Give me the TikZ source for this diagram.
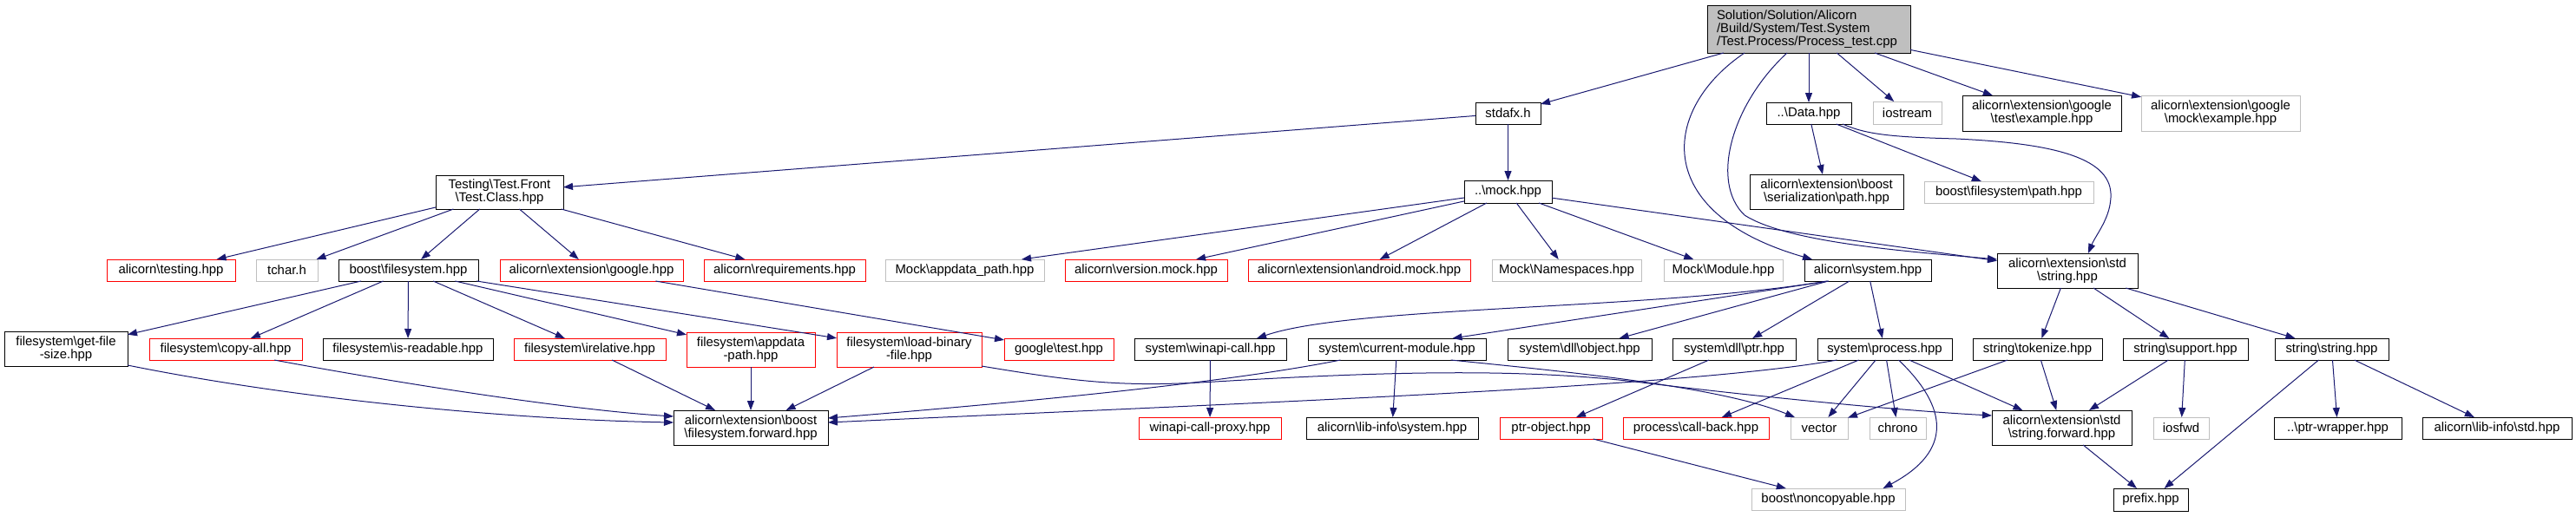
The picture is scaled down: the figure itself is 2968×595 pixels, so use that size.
\documentclass[tikz,border=0pt]{standalone}
\usepackage{fontspec}
\setmainfont{Liberation Sans}
\usetikzlibrary{arrows.meta}
\definecolor{edgec}{RGB}{25,25,112}
\definecolor{grayb}{RGB}{191,191,191}
\definecolor{redb}{RGB}{255,0,0}
\newcommand\bsl{\textbackslash}
\newcommand\nd[7]{\node[#6,minimum width=#4pt,minimum height=#5pt] (#1) at (#2,#3) {#7};}
\begin{document}
\begin{tikzpicture}[x=1pt,y=-1pt,font=\fontsize{14.9}{15.2}\selectfont,
  box/.style={draw=black,line width=1pt,inner sep=0pt,outer sep=0pt,align=center,fill=white},
  rbox/.style={box,draw=redb},
  gbox/.style={box,draw=grayb},
  conn/.style={draw=edgec,line width=1pt,-{Triangle[length=11pt,width=8pt]}}]
\useasboundingbox (0,0) rectangle (2968,595);
% root
\node[box,fill=grayb,text width=212pt,align=left,inner xsep=11pt,inner ysep=0pt,minimum height=55pt] (root) at (2084,33.5)
  {Solution/Solution/Alicorn\\/Build/System/Test.System\\/Test.Process/Process\_test.cpp};
% row 1
\nd{stdafx}{1737.5}{130.5}{75}{25}{box}{stdafx.h}
\nd{Data}{2084}{130.5}{98}{25}{box}{..\bsl Data.hpp}
\nd{iostream}{2197.5}{130}{79}{26}{gbox}{iostream}
\nd{testex}{2352.5}{130.5}{183}{41}{box}{alicorn\bsl extension\bsl google\\\bsl test\bsl example.hpp}
\nd{mockex}{2558.5}{130.5}{183}{41}{gbox}{alicorn\bsl extension\bsl google\\\bsl mock\bsl example.hpp}
% row 2
\nd{TestClass}{575.5}{221.5}{147}{39}{box}{Testing\bsl Test.Front\\\bsl Test.Class.hpp}
\nd{mock}{1737.5}{221}{101}{26}{box}{..\bsl mock.hpp}
\nd{serpath}{2104.5}{221}{177}{40}{box}{alicorn\bsl extension\bsl boost\\\bsl serialization\bsl path.hpp}
\nd{bfspath}{2314.5}{221.5}{195}{25}{gbox}{boost\bsl filesystem\bsl path.hpp}
% row 3
\nd{testing}{197}{311.5}{148}{25}{rbox}{alicorn\bsl testing.hpp}
\nd{tchar}{330.5}{311.5}{71}{25}{gbox}{tchar.h}
\nd{bfs}{470.5}{311.5}{161}{25}{box}{boost\bsl filesystem.hpp}
\nd{google}{681.5}{311.5}{211}{25}{rbox}{alicorn\bsl extension\bsl google.hpp}
\nd{requirements}{904}{311.5}{186}{25}{rbox}{alicorn\bsl requirements.hpp}
\nd{mockappdata}{1111.5}{311.5}{183}{25}{gbox}{Mock\bsl appdata\_path.hpp}
\nd{versionmock}{1320.5}{311.5}{187}{25}{rbox}{alicorn\bsl version.mock.hpp}
\nd{androidmock}{1566}{311.5}{256}{25}{rbox}{alicorn\bsl extension\bsl android.mock.hpp}
\nd{namespaces}{1805}{311.5}{172}{25}{gbox}{Mock\bsl Namespaces.hpp}
\nd{module}{1985.5}{311.5}{137}{25}{gbox}{Mock\bsl Module.hpp}
\nd{system}{2152}{311.5}{146}{25}{box}{alicorn\bsl system.hpp}
\nd{string}{2382}{312}{162}{40}{box}{alicorn\bsl extension\bsl std\\\bsl string.hpp}
% row 4
\nd{getfile}{76}{402}{142}{40}{box}{filesystem\bsl get-file\\-size.hpp}
\nd{copyall}{260}{402.5}{176}{25}{rbox}{filesystem\bsl copy-all.hpp}
\nd{isreadable}{470}{402.5}{196}{25}{box}{filesystem\bsl is-readable.hpp}
\nd{irelative}{679.5}{402.5}{175}{25}{rbox}{filesystem\bsl irelative.hpp}
\nd{appdatapath}{865}{403}{148}{40}{rbox}{filesystem\bsl appdata\\-path.hpp}
\nd{loadbinary}{1047.5}{403}{167}{40}{rbox}{filesystem\bsl load-binary\\-file.hpp}
\nd{googletest}{1220}{402.5}{126}{25}{rbox}{google\bsl test.hpp}
\nd{winapi}{1394.5}{402.5}{175}{25}{box}{system\bsl winapi-call.hpp}
\nd{curmod}{1609.5}{402.5}{205}{25}{box}{system\bsl current-module.hpp}
\nd{dllobject}{1820}{402.5}{166}{25}{box}{system\bsl dll\bsl object.hpp}
\nd{dllptr}{1998}{402.5}{142}{25}{box}{system\bsl dll\bsl ptr.hpp}
\nd{process}{2171.5}{402.5}{155}{25}{box}{system\bsl process.hpp}
\nd{tokenize}{2347.5}{402.5}{149}{25}{box}{string\bsl tokenize.hpp}
\nd{support}{2518}{402.5}{144}{25}{box}{string\bsl support.hpp}
\nd{strstring}{2686.5}{402.5}{131}{25}{box}{string\bsl string.hpp}
% row 5
\nd{fsforward}{865}{493}{178}{40}{box}{alicorn\bsl extension\bsl boost\\\bsl filesystem.forward.hpp}
\nd{winapiproxy}{1394}{493.5}{164}{25}{rbox}{winapi-call-proxy.hpp}
\nd{libinfosys}{1604}{493.5}{198}{25}{box}{alicorn\bsl lib-info\bsl system.hpp}
\nd{ptrobject}{1787}{493.5}{118}{25}{rbox}{ptr-object.hpp}
\nd{callback}{1954}{493.5}{168}{25}{rbox}{process\bsl call-back.hpp}
\nd{vector}{2096}{493.5}{66}{25}{gbox}{vector}
\nd{chrono}{2186.5}{493.5}{65}{25}{gbox}{chrono}
\nd{strforward}{2375.5}{493}{161}{40}{box}{alicorn\bsl extension\bsl std\\\bsl string.forward.hpp}
\nd{iosfwd}{2513}{493.5}{64}{25}{gbox}{iosfwd}
\nd{ptrwrapper}{2693.5}{493.5}{147}{25}{box}{..\bsl ptr-wrapper.hpp}
\nd{libinfostd}{2877}{493.5}{172}{25}{box}{alicorn\bsl lib-info\bsl std.hpp}
% row 6
\nd{noncopyable}{2106.5}{575.5}{177}{25}{gbox}{boost\bsl noncopyable.hpp}
\nd{prefix}{2478}{576}{86}{26}{box}{prefix.hpp}
% edges from root
\draw[conn] (root) -- (stdafx);
\draw[conn] ([xshift=-74pt]root.south) .. controls (1915,125) and (1900,245) .. ([xshift=9pt]system.north west);
\draw[conn] ([xshift=-25pt]root.south) .. controls (1995,120) and (1970,210) .. (2010,248) .. controls (2060,280) and (2200,290) .. ([yshift=13pt]string.west);
\draw[conn] (root) -- (Data);
\draw[conn] (root) -- (iostream);
\draw[conn] (root) -- (testex);
\draw[conn] (root) -- (mockex);
% stdafx
\draw[conn] (stdafx) -- (TestClass);
\draw[conn] (stdafx) -- (mock);
% Data
\draw[conn] (Data) -- (serpath);
\draw[conn] (Data) -- (bfspath);
\draw[conn] ([xshift=39pt]Data.south) .. controls (2150,155) and (2180,158) .. (2254,160) .. controls (2360,165) and (2430,180) .. (2432,223) .. controls (2433,250) and (2415,270) .. ([xshift=24pt]string.north);
% TestClass
\draw[conn] (TestClass) -- (testing);
\draw[conn] (TestClass) -- (tchar);
\draw[conn] (TestClass) -- (bfs);
\draw[conn] (TestClass) -- (google);
\draw[conn] (TestClass) -- (requirements);
% mock
\draw[conn] (mock) -- ([xshift=-26pt]mockappdata.north east);
\draw[conn] (mock) -- (versionmock);
\draw[conn] (mock) -- (androidmock);
\draw[conn] (mock) -- (namespaces);
\draw[conn] (mock) -- (module);
\draw[conn] (mock) -- (string);
% boost filesystem
\draw[conn] (bfs) -- (getfile);
\draw[conn] (bfs) -- (copyall);
\draw[conn] (bfs) -- (isreadable);
\draw[conn] (bfs) -- (irelative);
\draw[conn] (bfs) -- (appdatapath);
\draw[conn] (bfs) -- (loadbinary);
\draw[conn] (google) -- (googletest);
% system
\draw[conn] ([xshift=-47pt]system.south) .. controls (1900,358) and (1560,352) .. ([xshift=-34pt]winapi.north east);
\draw[conn] ([xshift=-45pt]system.south) -- ([xshift=64pt]curmod.north);
\draw[conn] (system) -- (dllobject);
\draw[conn] (system) -- (dllptr);
\draw[conn] (system) -- (process);
% string
\draw[conn] (string) -- (tokenize);
\draw[conn] (string) -- (support);
\draw[conn] (string) -- (strstring);
% to fs forward
\draw[conn] ([yshift=1pt]getfile.south east) .. controls (350,462) and (600,484) .. ([yshift=6pt]fsforward.west);
\draw[conn] ([xshift=56pt]copyall.south) .. controls (450,440) and (650,472) .. ([yshift=13pt]fsforward.west);
\draw[conn] (irelative) -- (fsforward);
\draw[conn] (appdatapath) -- (fsforward);
\draw[conn] (loadbinary) -- (fsforward);
\draw[conn] ([yshift=1pt]loadbinary.south east) .. controls (1250,442) and (1300,446) .. (1400,440) .. controls (1600,428) and (1760,424) .. (1900,442) .. controls (2050,460) and (2200,474) .. ([yshift=14pt]strforward.west);
\draw[conn] (winapi) -- (winapiproxy);
\draw[conn] ([xshift=-65pt]curmod.south) .. controls (1420,440) and (1200,462) .. ([yshift=11pt]fsforward.east);
\draw[conn] (curmod) -- (libinfosys);
\draw[conn] ([xshift=62pt]curmod.south) .. controls (1800,428) and (1980,445) .. ([xshift=-28pt]vector.north);
\draw[conn] (dllptr) -- (ptrobject);
% process
\draw[conn] ([xshift=-55pt]process.south) .. controls (1950,445) and (1500,462) .. ([yshift=6pt]fsforward.east);
\draw[conn] (process) -- (callback);
\draw[conn] (process) -- (vector);
\draw[conn] (process) -- (chrono);
\draw[conn] ([xshift=16pt]process.south) .. controls (2245,470) and (2250,520) .. ([xshift=63pt]noncopyable.north);
\draw[conn] (process) -- (strforward);
% tokenize, support, string
\draw[conn] (tokenize) -- (vector);
\draw[conn] (tokenize) -- (strforward);
\draw[conn] (support) -- (strforward);
\draw[conn] (support) -- (iosfwd);
\draw[conn] (strstring) -- (prefix);
\draw[conn] (strstring) -- (ptrwrapper);
\draw[conn] (strstring) -- (libinfostd);
\draw[conn] (strforward) -- (prefix);
\draw[conn] (ptrobject) -- (noncopyable);
\end{tikzpicture}
\end{document}
